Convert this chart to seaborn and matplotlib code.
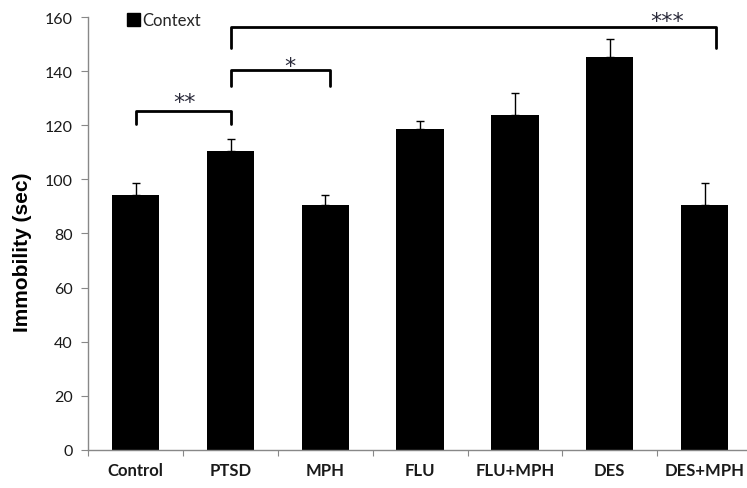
import numpy as np
import pandas as pd
import seaborn as sns
import matplotlib.pyplot as plt
from matplotlib.patches import Patch
from matplotlib.ticker import FixedLocator

# === data ===
groups = ["Control", "PTSD", "MPH", "FLU", "FLU+MPH", "DES", "DES+MPH"]
immobility = [94.2, 110.6, 90.7, 118.6, 124.0, 145.4, 90.7]
sem = [4.5, 4.4, 3.5, 3.0, 7.9, 6.5, 8.0]

# significance brackets: (left group, right group, top, leg bottom, label)
bracket_left = [0.0, 1.0, 1.0]
bracket_right = [1.0, 2.05, 6.12]
bracket_top = [125.4, 140.6, 156.3]
bracket_bottom = [120.5, 134.5, 148.5]
bracket_label = ["**", "*", "***"]
label_x = [0.52, 1.63, 5.6]
label_y = [126.3, 139.8, 156.4]   # baseline of the star text

df = pd.DataFrame({"group": groups, "immobility": immobility, "sem": sem})

sns.set_style("white")
plt.rcParams["font.family"] = ["Lato", "DejaVu Sans"]

fig = plt.figure(figsize=(7.47, 4.89), dpi=100)
ax = fig.add_axes([0.1182, 0.0783, 0.8885, 0.8843])

sns.barplot(data=df, x="group", y="immobility", order=groups, color="black",
            saturation=1, width=0.5, errorbar=None, ax=ax, edgecolor="black",
            linewidth=0)
ax.errorbar(np.arange(len(groups)), df["immobility"],
            yerr=[np.zeros(len(groups)), df["sem"]], fmt="none",
            ecolor="black", elinewidth=1.0, capsize=3, capthick=1.0)

# brackets
for x1, x2, yt, yb in zip(bracket_left, bracket_right, bracket_top, bracket_bottom):
    ax.plot([x1, x1, x2, x2], [yb, yt, yt, yb], color="black", lw=2.0,
            solid_joinstyle="round", solid_capstyle="round", clip_on=False)
for lx, ly, lab in zip(label_x, label_y, bracket_label):
    ax.text(lx, ly, lab, ha="center", va="baseline", fontsize=16,
            family="DejaVu Sans", color="#2a2a3a", clip_on=False)

ax.set_xlim(-0.5, 6.5)
ax.set_ylim(0, 160)
ax.set_yticks(np.arange(0, 161, 20))
ax.tick_params(axis="y", direction="out", length=5, width=0.8, color="#888888",
               labelsize=11.5, labelcolor="#1a1a1a", pad=6, left=True)
ax.xaxis.set_minor_locator(FixedLocator(np.arange(-0.5, 7, 1)))
ax.tick_params(axis="x", which="major", length=0, pad=9, labelsize=12,
               labelcolor="#1a1a1a")
ax.tick_params(axis="x", which="minor", direction="out", length=4, width=0.8,
               color="#888888", bottom=True)
for lbl in ax.get_xticklabels():
    lbl.set_fontweight("bold")

ax.set_xlabel("")
ax.set_ylabel("Immobility (sec)", fontsize=15, fontweight="bold", color="black",
              family="Liberation Sans")
ax.yaxis.set_label_coords(-0.085, 0.46)

for side in ["top", "right"]:
    ax.spines[side].set_visible(False)
for side in ["left", "bottom"]:
    ax.spines[side].set_color("#888888")
    ax.spines[side].set_linewidth(1.0)

handle = Patch(facecolor="black", edgecolor="black", label="Context")
ax.legend(handles=[handle], loc="upper left", bbox_to_anchor=(0.058, 1.012),
          frameon=False, fontsize=12, handlelength=0.8, handleheight=0.8,
          handletextpad=0.1, borderpad=0, borderaxespad=0)

fig.savefig("out.png", dpi=100)
